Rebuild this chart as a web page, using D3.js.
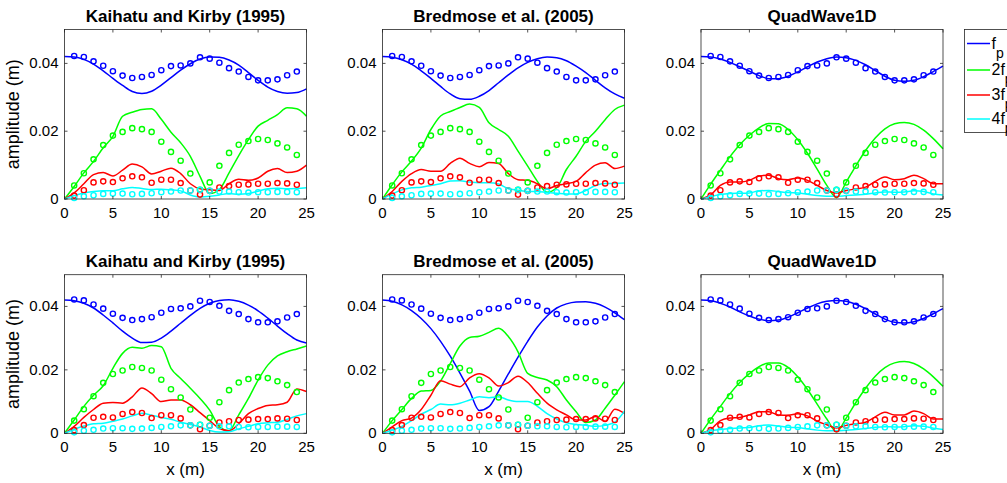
<!DOCTYPE html>
<html>
<head>
<meta charset="utf-8">
<script src="https://cdn.jsdelivr.net/npm/d3@7"></script>
<style>
  body { margin: 0; background: #fff; }
  text { font-family: "Liberation Sans", Arial, sans-serif; fill: #000; }
</style>
</head>
<body>
<svg id="fig"></svg>
<script>
var width = 1007;
var height = 483;

// x positions (m)
var xModel = [0,1,2,3,4,5,6,7,8,9,10,11,12,13,14,15,16,17,18,19,20,21,22,23,24,25];
var xMeas = [1,2,3,4,5,6,7,8,9,10,11,12,13,14,15,16,17,18,19,20,21,22,23,24];

// measured amplitudes (same in every panel)
var measFp  = [0.0422,0.0419,0.0406,0.0393,0.0377,0.0364,0.0357,0.0360,0.0366,0.0380,0.0392,0.0394,0.0400,0.0418,0.0414,0.0402,0.0386,0.0376,0.0360,0.0350,0.0350,0.0353,0.0365,0.0376];
var meas2fp = [0.0040,0.0076,0.0117,0.0159,0.0187,0.0198,0.0209,0.0206,0.0198,0.0169,0.0139,0.0113,0.0075,0.0027,0.0049,0.0098,0.0136,0.0160,0.0171,0.0177,0.0174,0.0164,0.0152,0.0130];
var meas3fp = [0.0010,0.0026,0.0049,0.0052,0.0050,0.0061,0.0067,0.0064,0.0048,0.0057,0.0057,0.0047,0.0025,0.0013,0.0024,0.0034,0.0038,0.0042,0.0043,0.0045,0.0045,0.0047,0.0046,0.0042];
var meas4fp = [0.0003,0.0008,0.0011,0.0015,0.0016,0.0016,0.0014,0.0015,0.0017,0.0020,0.0022,0.0025,0.0025,0.0027,0.0024,0.0022,0.0022,0.0020,0.0019,0.0020,0.0020,0.0021,0.0021,0.0020];

// model results, top row
var kkTopFp  = [0.0420,0.0419,0.0412,0.0398,0.0378,0.0356,0.0335,0.0317,0.0311,0.0318,0.0336,0.0358,0.0380,0.0399,0.0413,0.0419,0.0418,0.0410,0.0395,0.0373,0.0350,0.0330,0.0317,0.0312,0.0314,0.0325];
var kkTop2fp = [0,0.0037,0.0077,0.0111,0.0151,0.0185,0.0244,0.0256,0.0264,0.0266,0.0235,0.0197,0.0166,0.0126,0.0067,0.0016,0.0028,0.0077,0.0128,0.0175,0.0215,0.0232,0.0249,0.0269,0.0266,0.0244];
var kkTop3fp = [0,0.0018,0.0045,0.0072,0.0078,0.0068,0.0085,0.0103,0.0095,0.0074,0.0082,0.0091,0.0075,0.0045,0.0030,0.0027,0.0025,0.0045,0.0058,0.0055,0.0062,0.0082,0.0090,0.0078,0.0082,0.0100];
var kkTop4fp = [0,0.0010,0.0018,0.0022,0.0024,0.0024,0.0030,0.0034,0.0031,0.0028,0.0029,0.0027,0.0024,0.0012,0.0006,0.0008,0.0012,0.0016,0.0014,0.0016,0.0023,0.0030,0.0032,0.0030,0.0031,0.0033];

var bmTopFp  = [0.0420,0.0418,0.0411,0.0398,0.0378,0.0356,0.0332,0.0310,0.0296,0.0294,0.0303,0.0320,0.0343,0.0366,0.0387,0.0403,0.0414,0.0419,0.0417,0.0408,0.0392,0.0373,0.0350,0.0328,0.0310,0.0297];
var bmTop2fp = [0,0.0042,0.0080,0.0112,0.0150,0.0205,0.0245,0.0258,0.0270,0.0280,0.0270,0.0225,0.0205,0.0185,0.0141,0.0097,0.0052,0.0020,0.0033,0.0087,0.0126,0.0170,0.0200,0.0234,0.0264,0.0277];
var bmTop3fp = [0,0.0022,0.0052,0.0075,0.0087,0.0082,0.0082,0.0105,0.0120,0.0105,0.0095,0.0108,0.0105,0.0075,0.0057,0.0055,0.0045,0.0030,0.0040,0.0045,0.0052,0.0078,0.0100,0.0107,0.0090,0.0097];
var bmTop4fp = [0,0.0015,0.0027,0.0033,0.0035,0.0040,0.0045,0.0053,0.0054,0.0050,0.0048,0.0048,0.0044,0.0030,0.0026,0.0022,0.0022,0.0019,0.0017,0.0015,0.0015,0.0025,0.0040,0.0046,0.0046,0.0047];

var qwTopFp  = [0.0420,0.0419,0.0413,0.0403,0.0390,0.0377,0.0364,0.0355,0.0355,0.0362,0.0375,0.0390,0.0404,0.0414,0.0419,0.0417,0.0409,0.0396,0.0379,0.0362,0.0350,0.0347,0.0350,0.0361,0.0376,0.0392];
var qwTop2fp = [0,0.0044,0.0085,0.0125,0.0160,0.0188,0.0210,0.0223,0.0222,0.0205,0.0175,0.0135,0.0088,0.0040,0.0004,0.0050,0.0098,0.0143,0.0180,0.0207,0.0222,0.0226,0.0220,0.0203,0.0178,0.0148];
var qwTop3fp = [0,0.0012,0.0040,0.0050,0.0050,0.0055,0.0068,0.0070,0.0060,0.0057,0.0062,0.0055,0.0040,0.0025,0.0018,0.0025,0.0030,0.0035,0.0052,0.0065,0.0057,0.0060,0.0070,0.0060,0.0045,0.0045];
var qwTop4fp = [0,0.0007,0.0013,0.0016,0.0017,0.0018,0.0024,0.0025,0.0022,0.0019,0.0018,0.0014,0.0010,0.0008,0.0008,0.0010,0.0012,0.0014,0.0018,0.0021,0.0020,0.0021,0.0024,0.0022,0.0015,0.0012];

// model results, bottom row
var kkBotFp  = [0.0420,0.0418,0.0410,0.0395,0.0373,0.0348,0.0322,0.0300,0.0286,0.0287,0.0300,0.0322,0.0347,0.0372,0.0394,0.0410,0.0419,0.0421,0.0416,0.0404,0.0386,0.0363,0.0338,0.0314,0.0294,0.0285];
var kkBot2fp = [0,0.0042,0.0085,0.0120,0.0150,0.0205,0.0252,0.0271,0.0268,0.0277,0.0273,0.0205,0.0173,0.0142,0.0110,0.0073,0.0021,0.0008,0.0058,0.0110,0.0168,0.0215,0.0244,0.0257,0.0266,0.0275];
var kkBot3fp = [0,0.0022,0.0050,0.0075,0.0095,0.0097,0.0095,0.0115,0.0143,0.0125,0.0100,0.0105,0.0105,0.0090,0.0065,0.0040,0.0015,0.0008,0.0030,0.0062,0.0078,0.0088,0.0090,0.0098,0.0140,0.0132];
var kkBot4fp = [0,0.0013,0.0023,0.0030,0.0032,0.0038,0.0045,0.0055,0.0063,0.0057,0.0050,0.0044,0.0035,0.0028,0.0020,0.0009,0.0004,0.0005,0.0014,0.0022,0.0030,0.0033,0.0035,0.0044,0.0055,0.0062];

var bmBotFp  = [0.0420,0.0416,0.0405,0.0387,0.0362,0.0330,0.0290,0.0243,0.0190,0.0133,0.0072,0.0084,0.0133,0.0187,0.0240,0.0290,0.0335,0.0370,0.0395,0.0408,0.0414,0.0415,0.0410,0.0398,0.0380,0.0358];
var bmBot2fp = [0,0.0040,0.0075,0.0110,0.0133,0.0135,0.0165,0.0220,0.0275,0.0302,0.0306,0.0318,0.0331,0.0305,0.0257,0.0189,0.0176,0.0168,0.0147,0.0105,0.0068,0.0034,0.0042,0.0079,0.0120,0.0163];
var bmBot3fp = [0,0.0020,0.0040,0.0048,0.0075,0.0120,0.0166,0.0155,0.0147,0.0175,0.0188,0.0175,0.0149,0.0160,0.0180,0.0160,0.0126,0.0095,0.0074,0.0058,0.0042,0.0042,0.0053,0.0037,0.0076,0.0063];
var bmBot4fp = [0,0.0010,0.0022,0.0040,0.0060,0.0075,0.0092,0.0090,0.0095,0.0105,0.0115,0.0112,0.0115,0.0105,0.0100,0.0100,0.0085,0.0062,0.0045,0.0033,0.0028,0.0025,0.0022,0.0025,0.0035,0.0070];

var qwBotFp  = [0.0420,0.0418,0.0410,0.0398,0.0383,0.0370,0.0360,0.0355,0.0357,0.0366,0.0380,0.0395,0.0408,0.0416,0.0419,0.0416,0.0407,0.0393,0.0376,0.0360,0.0350,0.0348,0.0352,0.0362,0.0377,0.0393];
var qwBot2fp = [0,0.0044,0.0085,0.0125,0.0160,0.0188,0.0210,0.0222,0.0222,0.0208,0.0178,0.0138,0.0092,0.0045,0.0005,0.0048,0.0097,0.0142,0.0180,0.0207,0.0222,0.0226,0.0220,0.0203,0.0178,0.0148];
var qwBot3fp = [0,0.0012,0.0040,0.0048,0.0050,0.0058,0.0068,0.0068,0.0058,0.0057,0.0062,0.0055,0.0038,0.0027,0.0017,0.0025,0.0030,0.0035,0.0052,0.0066,0.0058,0.0058,0.0070,0.0062,0.0045,0.0045];
var qwBot4fp = [0,0.0008,0.0012,0.0015,0.0017,0.0018,0.0024,0.0026,0.0023,0.0019,0.0018,0.0014,0.0010,0.0008,0.0008,0.0010,0.0012,0.0015,0.0019,0.0021,0.0020,0.0021,0.0024,0.0022,0.0016,0.0012];

var titles = ['Kaihatu and Kirby (1995)', 'Bredmose et al. (2005)', 'QuadWave1D'];
var xTicks = [0, 5, 10, 15, 20, 25];
var yTicks = [0, 0.02, 0.04];
var colors = ['#0000ff', '#00ff00', '#ff0000', '#00ffff'];
var legendLabels = ['f', '2f', '3f', '4f'];

var measured = [measFp, meas2fp, meas3fp, meas4fp];
var panels = [
  { row: 0, col: 0, model: [kkTopFp, kkTop2fp, kkTop3fp, kkTop4fp] },
  { row: 0, col: 1, model: [bmTopFp, bmTop2fp, bmTop3fp, bmTop4fp] },
  { row: 0, col: 2, model: [qwTopFp, qwTop2fp, qwTop3fp, qwTop4fp] },
  { row: 1, col: 0, model: [kkBotFp, kkBot2fp, kkBot3fp, kkBot4fp] },
  { row: 1, col: 1, model: [bmBotFp, bmBot2fp, bmBot3fp, bmBot4fp] },
  { row: 1, col: 2, model: [qwBotFp, qwBot2fp, qwBot3fp, qwBot4fp] }
];

// axes placement
var colLeft = [64.5, 382.5, 701];
var axW = 242;
var rowTop = [29.5, 274.7];
var rowBottom = [199, 433.3];

var svg = d3.select('#fig').attr('width', width).attr('height', height);
var axisColor = '#262626';

panels.forEach(function(p) {
  var x = d3.scaleLinear().domain([0, 25]).range([0, axW]);
  var y = d3.scaleLinear().domain([0, 0.05]).range([rowBottom[p.row] - rowTop[p.row], 0]);
  var h = rowBottom[p.row] - rowTop[p.row];

  var g = svg.append('g')
    .attr('transform', 'translate(' + colLeft[p.col] + ',' + rowTop[p.row] + ')');

  // model lines
  var line = d3.line()
    .x(function(d, i) { return x(xModel[i]); })
    .y(function(d) { return y(d); })
    .curve(d3.curveMonotoneX);

  p.model.forEach(function(s, k) {
    g.append('path')
      .attr('d', line(s))
      .attr('fill', 'none')
      .attr('stroke', colors[k])
      .attr('stroke-width', 1.5);
  });

  // measured circles
  measured.forEach(function(s, k) {
    g.selectAll('.m' + k)
      .data(s)
      .enter()
      .append('circle')
      .attr('class', 'm' + k)
      .attr('cx', function(d, i) { return x(xMeas[i]); })
      .attr('cy', function(d) { return y(d); })
      .attr('r', 2.6)
      .attr('fill', 'none')
      .attr('stroke', colors[k])
      .attr('stroke-width', 1.4);
  });

  // box
  g.append('rect')
    .attr('width', axW).attr('height', h)
    .attr('fill', 'none').attr('stroke', axisColor).attr('stroke-width', 0.8);

  // ticks inside on all sides
  xTicks.forEach(function(t) {
    g.append('line').attr('x1', x(t)).attr('x2', x(t)).attr('y1', h).attr('y2', h - 3)
      .attr('stroke', axisColor).attr('stroke-width', 0.8);
    g.append('line').attr('x1', x(t)).attr('x2', x(t)).attr('y1', 0).attr('y2', 3)
      .attr('stroke', axisColor).attr('stroke-width', 0.8);
    g.append('text').attr('x', x(t)).attr('y', h + 19)
      .attr('text-anchor', 'middle').style('font-size', '15px').text(t);
  });
  yTicks.forEach(function(t) {
    g.append('line').attr('x1', 0).attr('x2', 3).attr('y1', y(t)).attr('y2', y(t))
      .attr('stroke', axisColor).attr('stroke-width', 0.8);
    g.append('line').attr('x1', axW).attr('x2', axW - 3).attr('y1', y(t)).attr('y2', y(t))
      .attr('stroke', axisColor).attr('stroke-width', 0.8);
    g.append('text').attr('x', -6).attr('y', y(t) + 5)
      .attr('text-anchor', 'end').style('font-size', '15px').text(t === 0 ? '0' : t.toFixed(2));
  });

  // title
  g.append('text').attr('x', axW / 2).attr('y', -8)
    .attr('text-anchor', 'middle').style('font-size', '17px').style('font-weight', 'bold')
    .text(titles[p.col]);

  if (p.col === 0) {
    g.append('text')
      .attr('transform', 'translate(-46,' + (h / 2) + ') rotate(-90)')
      .attr('text-anchor', 'middle').style('font-size', '18px')
      .text('amplitude (m)');
  }
  if (p.row === 1) {
    g.append('text').attr('x', axW / 2).attr('y', h + 42)
      .attr('text-anchor', 'middle').style('font-size', '17px')
      .text('x (m)');
  }
});

// legend (cut off at the right edge like the original)
var leg = svg.append('g').attr('transform', 'translate(964.5,29.5)');
leg.append('rect').attr('width', 80).attr('height', 103)
  .attr('fill', '#fff').attr('stroke', axisColor).attr('stroke-width', 0.8);
var legY = [14, 40.5, 65.5, 89.5];
legendLabels.forEach(function(lbl, k) {
  leg.append('line').attr('x1', 2.5).attr('x2', 25.5).attr('y1', legY[k]).attr('y2', legY[k])
    .attr('stroke', colors[k]).attr('stroke-width', 1.5);
  var t = leg.append('text').attr('x', 27).attr('y', legY[k] + 5).style('font-size', '16px');
  t.append('tspan').text(lbl);
  t.append('tspan').attr('dy', 9).style('font-size', '14px').text('p');
});
</script>
</body>
</html>
